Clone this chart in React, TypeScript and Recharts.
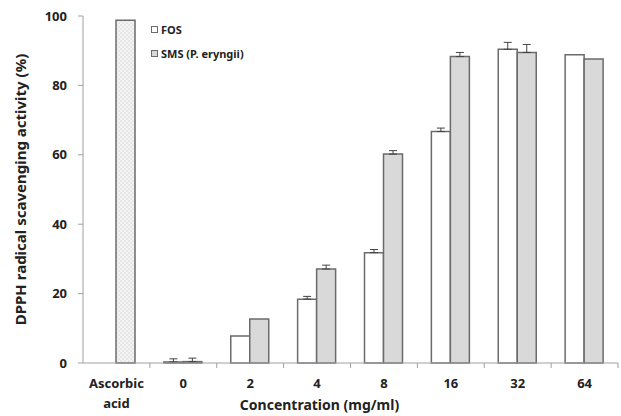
import { BarChart, Bar, XAxis, YAxis, ErrorBar, Cell, Legend, Label } from "recharts"

const categories = ["Ascorbic acid", "0", "2", "4", "8", "16", "32", "64"]
const ascorbic = [98.8, null, null, null, null, null, null, null]
const fos = [null, 0.3, 7.8, 18.4, 31.8, 66.7, 90.4, 88.8]
const fosErr = [null, 0.9, null, 0.8, 0.9, 1.0, 2.0, null]
const sms = [null, 0.4, 12.7, 27.1, 60.2, 88.3, 89.5, 87.6]
const smsErr = [null, 1.0, null, 1.1, 1.0, 1.2, 2.3, null]
const yTicks = [0, 20, 40, 60, 80, 100]

// ascorbic acid sits in the second slot of its group, so it rides on the SMS series
const data = categories.map((name, i) => ({
  name,
  fos: fos[i],
  fosErr: fosErr[i] == null ? null : [0, fosErr[i]],
  sms: ascorbic[i] ?? sms[i],
  smsErr: smsErr[i] == null ? null : [0, smsErr[i]],
}))

const font = "'Noto Sans', sans-serif"
const stroke = "#6b6b6b"

function XTick(props: any) {
  const { x, y, payload, width, visibleTicksCount } = props
  const half = width / visibleTicksCount / 2
  const lines = String(payload.value).split(" ")
  return (
    <g>
      <line x1={x + half} x2={x + half} y1={y} y2={y + 5} stroke="#a0a0a0" />
      {lines.map((t, i) => (
        <text
          key={t}
          x={x}
          y={y + 25 + i * 20}
          textAnchor="middle"
          fontFamily={font}
          fontWeight="bold"
          fontSize={13}
          fill="#222"
        >
          {t}
        </text>
      ))}
    </g>
  )
}

function LegendBox() {
  const items = [
    { label: "FOS", fill: "#ffffff" },
    { label: "SMS (P. eryngii)", fill: "#d9d9d9" },
  ]
  return (
    <div style={{ fontFamily: font, fontWeight: "bold", fontSize: 11, color: "#222" }}>
      {items.map((it) => (
        <div key={it.label} style={{ display: "flex", alignItems: "center", height: 24 }}>
          <span
            style={{
              width: 5,
              height: 5,
              border: `1px solid ${stroke}`,
              background: it.fill,
              marginRight: 3,
            }}
          />
          {it.label}
        </div>
      ))}
    </div>
  )
}

export default function App() {
  return (
    <div style={{ position: "absolute", left: 0, top: 0, background: "#fff" }}>
      <BarChart
        width={621}
        height={416}
        data={data}
        margin={{ top: 16, right: 3, left: 0, bottom: 0 }}
        barSize={19}
        barGap={0}
      >
        <defs>
          <pattern id="dots" width="4" height="4" patternUnits="userSpaceOnUse">
            <rect width="4" height="4" fill="#f4f4f4" />
            <circle cx="1" cy="1" r="0.6" fill="#b8b8b8" />
            <circle cx="3" cy="3" r="0.6" fill="#b8b8b8" />
          </pattern>
        </defs>
        <XAxis
          dataKey="name"
          height={53}
          axisLine={{ stroke: "#a0a0a0" }}
          tickLine={false}
          tickSize={0}
          tickMargin={0}
          interval={0}
          tick={<XTick />}
        >
          <Label
            value="Concentration (mg/ml)"
            position="insideBottom"
            offset={6}
            dx={-31}
            style={{ fontFamily: font, fontWeight: "bold", fontSize: 14, fill: "#222" }}
          />
        </XAxis>
        <YAxis
          width={83}
          domain={[0, 100]}
          ticks={yTicks}
          axisLine={{ stroke: "#a0a0a0" }}
          tickLine={{ stroke: "#a0a0a0" }}
          tickSize={5}
          tickMargin={11}
          tick={{ fontFamily: font, fontWeight: "bold", fontSize: 13, fill: "#222" }}
        >
          <Label
            value="DPPH radical scavenging activity (%)"
            angle={-90}
            position="insideLeft"
            offset={21}
            style={{
              textAnchor: "middle",
              fontFamily: font,
              fontWeight: "bold",
              fontSize: 15,
              fill: "#222",
            }}
          />
        </YAxis>
        <Legend
          layout="horizontal"
          verticalAlign="middle"
          align="center"
          content={<LegendBox />}
          wrapperStyle={{ left: 151, top: 17, width: 150 }}
        />
        <Bar dataKey="fos" fill="#ffffff" stroke={stroke} strokeWidth={1.5} isAnimationActive={false}>
          <ErrorBar dataKey="fosErr" width={4} stroke="#444" strokeWidth={1} direction="y" />
        </Bar>
        <Bar dataKey="sms" fill="#d9d9d9" stroke={stroke} strokeWidth={1.5} isAnimationActive={false}>
          {data.map((d, i) => (
            <Cell key={d.name} fill={ascorbic[i] != null ? "url(#dots)" : "#d9d9d9"} />
          ))}
          <ErrorBar dataKey="smsErr" width={4} stroke="#444" strokeWidth={1} direction="y" />
        </Bar>
      </BarChart>
    </div>
  )
}
